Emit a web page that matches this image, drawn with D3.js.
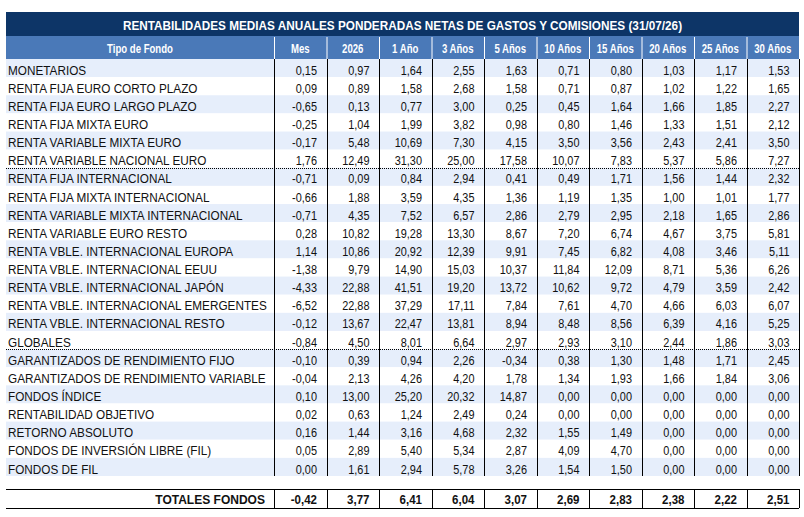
<!DOCTYPE html>
<html>
<head>
<meta charset="utf-8">
<script src="https://cdn.jsdelivr.net/npm/d3@7"></script>
<style>
    body { margin: 0; background: #ffffff; }
    svg  { display: block; }
</style>
</head>
<body>
<div id="chart"></div>
<script>

/* Table Data */

var title = "RENTABILIDADES MEDIAS ANUALES PONDERADAS NETAS DE GASTOS Y COMISIONES (31/07/26)";
var firstHeader = "Tipo de Fondo";
var periods = ["Mes", "2026", "1 Año", "3 Años", "5 Años", "10 Años", "15 Años", "20 Años", "25 Años", "30 Años"];

var fundTypes = [
    "MONETARIOS",
    "RENTA FIJA EURO CORTO PLAZO",
    "RENTA FIJA EURO LARGO PLAZO",
    "RENTA FIJA MIXTA EURO",
    "RENTA VARIABLE MIXTA EURO",
    "RENTA VARIABLE NACIONAL EURO",
    "RENTA FIJA INTERNACIONAL",
    "RENTA FIJA MIXTA INTERNACIONAL",
    "RENTA VARIABLE MIXTA INTERNACIONAL",
    "RENTA VARIABLE EURO RESTO",
    "RENTA VBLE. INTERNACIONAL EUROPA",
    "RENTA VBLE. INTERNACIONAL EEUU",
    "RENTA VBLE. INTERNACIONAL JAPÓN",
    "RENTA VBLE. INTERNACIONAL EMERGENTES",
    "RENTA VBLE. INTERNACIONAL RESTO",
    "GLOBALES",
    "GARANTIZADOS DE RENDIMIENTO FIJO",
    "GARANTIZADOS DE RENDIMIENTO VARIABLE",
    "FONDOS ÍNDICE",
    "RENTABILIDAD OBJETIVO",
    "RETORNO ABSOLUTO",
    "FONDOS DE INVERSIÓN LIBRE (FIL)",
    "FONDOS DE FIL"
];

// One array per period column, in fundTypes order
var retMes  = [0.15, 0.09, -0.65, -0.25, -0.17, 1.76, -0.71, -0.66, -0.71, 0.28, 1.14, -1.38, -4.33, -6.52, -0.12, -0.84, -0.10, -0.04, 0.10, 0.02, 0.16, 0.05, 0.00];
var ret2026 = [0.97, 0.89, 0.13, 1.04, 5.48, 12.49, 0.09, 1.88, 4.35, 10.82, 10.86, 9.79, 22.88, 22.88, 13.67, 4.50, 0.39, 2.13, 13.00, 0.63, 1.44, 2.89, 1.61];
var ret1    = [1.64, 1.58, 0.77, 1.99, 10.69, 31.30, 0.84, 3.59, 7.52, 19.28, 20.92, 14.90, 41.51, 37.29, 22.47, 8.01, 0.94, 4.26, 25.20, 1.24, 3.16, 5.40, 2.94];
var ret3    = [2.55, 2.68, 3.00, 3.82, 7.30, 25.00, 2.94, 4.35, 6.57, 13.30, 12.39, 15.03, 19.20, 17.11, 13.81, 6.64, 2.26, 4.20, 20.32, 2.49, 4.68, 5.34, 5.78];
var ret5    = [1.63, 1.58, 0.25, 0.98, 4.15, 17.58, 0.41, 1.36, 2.86, 8.67, 9.91, 10.37, 13.72, 7.84, 8.94, 2.97, -0.34, 1.78, 14.87, 0.24, 2.32, 2.87, 3.26];
var ret10   = [0.71, 0.71, 0.45, 0.80, 3.50, 10.07, 0.49, 1.19, 2.79, 7.20, 7.45, 11.84, 10.62, 7.61, 8.48, 2.93, 0.38, 1.34, 0.00, 0.00, 1.55, 4.09, 1.54];
var ret15   = [0.80, 0.87, 1.64, 1.46, 3.56, 7.83, 1.71, 1.35, 2.95, 6.74, 6.82, 12.09, 9.72, 4.70, 8.56, 3.10, 1.30, 1.93, 0.00, 0.00, 1.49, 4.70, 1.50];
var ret20   = [1.03, 1.02, 1.66, 1.33, 2.43, 5.37, 1.56, 1.00, 2.18, 4.67, 4.08, 8.71, 4.79, 4.66, 6.39, 2.44, 1.48, 1.66, 0.00, 0.00, 0.00, 0.00, 0.00];
var ret25   = [1.17, 1.22, 1.85, 1.51, 2.41, 5.86, 1.44, 1.01, 1.65, 3.75, 3.46, 5.36, 3.59, 6.03, 4.16, 1.86, 1.71, 1.84, 0.00, 0.00, 0.00, 0.00, 0.00];
var ret30   = [1.53, 1.65, 2.27, 2.12, 3.50, 7.27, 2.32, 1.77, 2.86, 5.81, 5.11, 6.26, 2.42, 6.07, 5.25, 3.03, 2.45, 3.06, 0.00, 0.00, 0.00, 0.00, 0.00];

var totalLabel = "TOTALES FONDOS";
var totals = [-0.42, 3.77, 6.41, 6.04, 3.07, 2.69, 2.83, 2.38, 2.22, 2.51];

// Rows followed by a dotted separator
var groupBreaks = ["RENTA VARIABLE NACIONAL EURO", "GLOBALES"];

/* Layout & Style */

var width = 804, height = 517;
var left = 6, right = 799, labelRight = 274;
var titleTop = 12, headTop = 36, headBottom = 59, rowsBottom = 476;
var totalTop = 489, totalBottom = 508;
var navy = "#0d3567", headBlue = "#4a79b8", rowBlue = "#e6eefb", ink = "#111111";
var font = "Arial, 'Liberation Sans', sans-serif";

var columns = [retMes, ret2026, ret1, ret3, ret5, ret10, ret15, ret20, ret25, ret30];

// Spanish number format
var fmt = d3.formatLocale({decimal: ",", thousands: ".", grouping: [3], currency: ["", " €"], minus: "-"}).format(".2f");

/* Scales */

var x = d3.scaleBand().domain(periods).range([labelRight, right]);
var y = d3.scaleBand().domain(fundTypes).range([headBottom, rowsBottom]);

var svg = d3.select("#chart").append("svg")
    .attr("width", width)
    .attr("height", height)
    .attr("viewBox", "0 0 " + width + " " + height);

// Condensed text helper (Excel renders narrower than Arial)
function addText(g, tx, ty, str, opts) {
    return g.append("text")
        .attr("transform", "translate(" + tx + "," + ty + ") scale(" + opts.sx + ",1)")
        .attr("text-anchor", opts.anchor)
        .attr("font-family", font)
        .attr("font-size", opts.size)
        .attr("font-weight", opts.bold ? "bold" : "normal")
        .attr("fill", opts.fill)
        .text(str);
}

/* Title Bar */

svg.append("rect")
    .attr("x", left).attr("y", titleTop)
    .attr("width", right - left).attr("height", headTop - titleTop)
    .attr("fill", navy);

addText(svg, (left + right) / 2, headTop - 6.5, title, {sx: 0.92, anchor: "middle", size: 12.8, bold: true, fill: "#ffffff"});

/* Header Row */

var header = svg.append("g").attr("class", "header");

header.append("rect")
    .attr("x", left).attr("y", headTop)
    .attr("width", right - left).attr("height", headBottom - headTop)
    .attr("fill", headBlue);

addText(header, (left + labelRight) / 2, headTop + 16.5, firstHeader, {sx: 0.8, anchor: "middle", size: 12, bold: true, fill: "#ffffff"});

periods.forEach(function (p) {
    addText(header, x(p) + x.bandwidth() / 2, headTop + 16.5, p, {sx: 0.8, anchor: "middle", size: 12, bold: true, fill: "#ffffff"});
});

// White separators between header cells
header.selectAll("line")
    .data(periods)
    .enter().append("line")
    .attr("x1", function (p) { return x(p) + 0.5; })
    .attr("x2", function (p) { return x(p) + 0.5; })
    .attr("y1", headTop + 1).attr("y2", headBottom)
    .attr("stroke", "#ffffff").attr("stroke-width", 1);

/* Data Rows */

var rows = svg.append("g").attr("class", "rows")
    .selectAll("g")
    .data(fundTypes)
    .enter().append("g");

rows.append("rect")
    .attr("x", left)
    .attr("y", function (d) { return y(d); })
    .attr("width", right - left)
    .attr("height", y.bandwidth())
    .attr("fill", function (d, i) { return i % 2 === 0 ? rowBlue : "#ffffff"; });

rows.each(function (d, i) {
    var g = d3.select(this);
    var base = y(d) + y.bandwidth() - 2.5;
    addText(g, left + 2, base, d, {sx: 0.92, anchor: "start", size: 12.8, bold: false, fill: ink});
    periods.forEach(function (p, j) {
        addText(g, x(p) + x.bandwidth() - 9.5, base, fmt(columns[j][i]), {sx: 0.84, anchor: "end", size: 13, bold: false, fill: ink});
    });
});

// Dotted group separators
svg.append("g").selectAll("line")
    .data(groupBreaks)
    .enter().append("line")
    .attr("x1", left).attr("x2", right)
    .attr("y1", function (d) { return Math.round(y(d) + y.bandwidth()) + 0.5; })
    .attr("y2", function (d) { return Math.round(y(d) + y.bandwidth()) + 0.5; })
    .attr("stroke", "#000000").attr("stroke-width", 1)
    .attr("stroke-dasharray", "1,1");

// Vertical column borders
var borders = [labelRight].concat(periods.slice(1).map(function (p) { return x(p); })).concat([right]);

svg.append("g").selectAll("line")
    .data(borders)
    .enter().append("line")
    .attr("x1", function (d) { return Math.round(d) + 0.5; })
    .attr("x2", function (d) { return Math.round(d) + 0.5; })
    .attr("y1", headBottom).attr("y2", rowsBottom)
    .attr("stroke", "#000000").attr("stroke-width", 1);

/* Totals Row */

var totalG = svg.append("g").attr("class", "totals");

totalG.selectAll("line.v")
    .data(borders)
    .enter().append("line")
    .attr("class", "v")
    .attr("x1", function (d) { return Math.round(d) + 0.5; })
    .attr("x2", function (d) { return Math.round(d) + 0.5; })
    .attr("y1", totalTop).attr("y2", totalBottom)
    .attr("stroke", "#000000").attr("stroke-width", 1);

[totalTop, totalBottom].forEach(function (ly) {
    totalG.append("line")
        .attr("x1", left).attr("x2", right)
        .attr("y1", ly + 0.5).attr("y2", ly + 0.5)
        .attr("stroke", "#000000").attr("stroke-width", 1.2);
});

var totalBase = totalBottom - 4.5;
addText(totalG, labelRight - 9, totalBase, totalLabel, {sx: 0.94, anchor: "end", size: 12.8, bold: true, fill: ink});

periods.forEach(function (p, j) {
    addText(totalG, x(p) + x.bandwidth() - 9.5, totalBase, fmt(totals[j]), {sx: 0.9, anchor: "end", size: 12.8, bold: true, fill: ink});
});

</script>
</body>
</html>
